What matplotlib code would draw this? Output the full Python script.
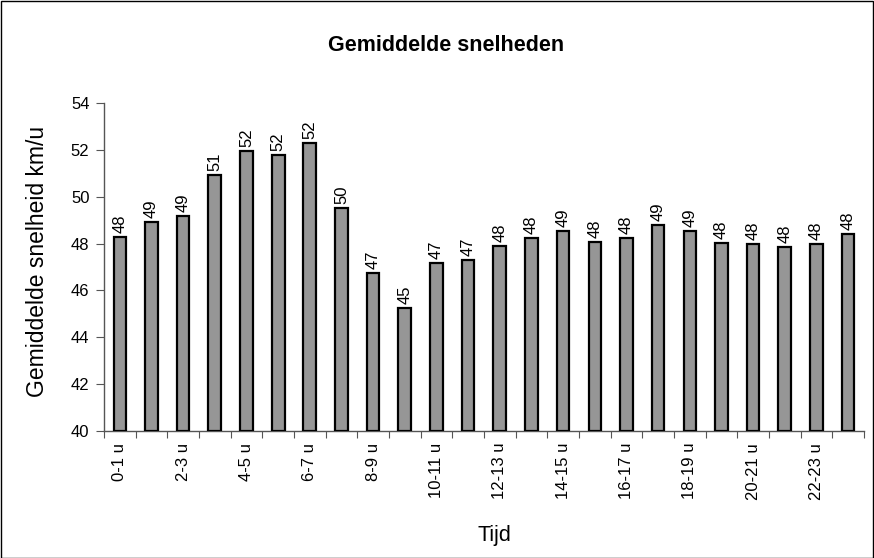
import matplotlib
matplotlib.use("Agg")
import matplotlib.pyplot as plt
import numpy as np

categories = ["0-1 u", "1-2 u", "2-3 u", "3-4 u", "4-5 u", "5-6 u", "6-7 u", "7-8 u",
              "8-9 u", "9-10 u", "10-11 u", "11-12 u", "12-13 u", "13-14 u", "14-15 u",
              "15-16 u", "16-17 u", "17-18 u", "18-19 u", "19-20 u", "20-21 u", "21-22 u",
              "22-23 u", "23-24 u"]
speeds = [48.29, 48.92, 49.18, 50.94, 51.96, 51.80, 52.29, 49.53, 46.75, 45.23, 47.16, 47.30,
          47.91, 48.24, 48.54, 48.07, 48.24, 48.81, 48.54, 48.04, 47.98, 47.84, 47.97, 48.40]
yticks = [40, 42, 44, 46, 48, 50, 52, 54]

plt.rcParams['font.family'] = ['Liberation Sans', 'DejaVu Sans']

fig = plt.figure(figsize=(8.74, 5.58), dpi=100)
ax = fig.add_axes([104/874, 1 - 431/558, (864-104)/874, (431-103)/558])

x = np.arange(len(categories))
ax.bar(x, [s - 40 for s in speeds], bottom=40, width=0.4, color='#969696',
       edgecolor='black', linewidth=1.6, zorder=3)
for xi, s in zip(x, speeds):
    ax.annotate(f"{round(s):d}", (xi, s), xytext=(0, 4), textcoords='offset pixels',
                rotation=90, ha='center', va='bottom', fontsize=12)

ax.set_ylim(40, 54)
ax.set_xlim(-0.5, len(categories) - 0.5)
ax.set_yticks(yticks)
ax.set_yticklabels([str(v) for v in yticks], fontsize=12)

ax.set_xticks(np.arange(len(categories) + 1) - 0.5)
ax.set_xticklabels([])
ax.set_xticks(x[::2], minor=True)
ax.set_xticklabels(categories[::2], minor=True, rotation=90, fontsize=12)
ax.tick_params(axis='x', which='minor', length=0, pad=8.5)
ax.tick_params(axis='x', which='major', length=5, direction='out', color='#555555')
ax.tick_params(axis='y', length=6, direction='out', color='#555555', pad=4.5)

for sp in ['top', 'right']:
    ax.spines[sp].set_visible(False)
for sp in ['left', 'bottom']:
    ax.spines[sp].set_color('#555555')
    ax.spines[sp].set_linewidth(1)

fig.text(446/874, 1 - 51/558, "Gemiddelde snelheden", ha='center', va='baseline',
         fontsize=15.5, fontweight='bold')
fig.text(38/874, 1 - 261.5/558, "Gemiddelde snelheid km/u", ha='center', va='center',
         rotation=90, fontsize=16.5)
fig.text(494.5/874, 1 - 541/558, "Tijd", ha='center', va='baseline', fontsize=15.5)

border = plt.Rectangle((0.5/874, 0.5/558), 872.5/874, 556.5/558, transform=fig.transFigure,
                       fill=False, edgecolor='black', linewidth=1)
fig.patches.append(border)

fig.savefig("out.png", dpi=100)
